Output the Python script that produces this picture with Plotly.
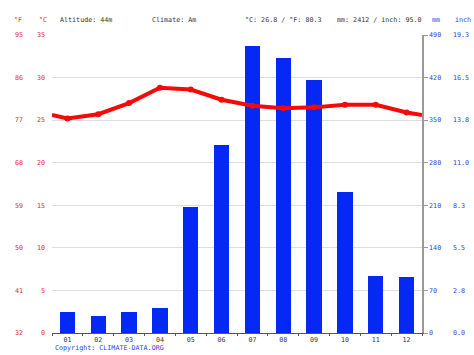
import plotly.graph_objects as go

months = ["01", "02", "03", "04", "05", "06", "07", "08", "09", "10", "11", "12"]
precip_mm = [34, 28, 34, 41, 207, 309, 472, 453, 416, 232, 93, 92]
temp_c = [25.2, 25.7, 27.0, 28.8, 28.6, 27.4, 26.7, 26.4, 26.5, 26.8, 26.8, 25.9]
temp_edge_c = [25.6, 25.6]  # line value at left / right plot edges

c_ticks = [0, 5, 10, 15, 20, 25, 30, 35]
f_ticks = [32, 41, 50, 59, 68, 77, 86, 95]
mm_ticks = [0, 70, 140, 210, 280, 350, 420, 490]
inch_labels = ["0.0", "2.8", "5.5", "8.3", "11.0", "13.8", "16.5", "19.3"]

W, H = 474, 355
L, R, T, B = 52, 52, 35, 22
FONT = "DejaVu Sans Mono"
FS = 6.7
RED = "#e8242a"
BLUE = "#2b3fe0"
DARK = "#333333"


def px(x):
    return (x - L) / (W - L - R)


def py(y):
    return (H - B - y) / (H - T - B)


xs = list(range(1, 13))
line_x = [0.5] + xs + [12.5]
line_y = [temp_edge_c[0]] + temp_c + [temp_edge_c[1]]

fig = go.Figure()
fig.add_trace(go.Bar(x=xs, y=precip_mm, width=0.5, marker_color="#0528f5",
                     marker_line_width=0, yaxis="y", showlegend=False))
fig.add_trace(go.Scatter(x=line_x, y=line_y, mode="lines", yaxis="y2",
                         line=dict(color="#f50a0a", width=4), showlegend=False))
fig.add_trace(go.Scatter(x=xs, y=temp_c, mode="markers", yaxis="y2",
                         marker=dict(color="#f50a0a", size=6), showlegend=False))
fig.add_trace(go.Scatter(x=[None], y=[None], yaxis="y3", showlegend=False))
fig.add_trace(go.Scatter(x=[None], y=[None], yaxis="y4", showlegend=False))

fig.update_layout(
    width=W, height=H,
    margin=dict(l=L, r=R, t=T, b=B, autoexpand=False),
    paper_bgcolor="white", plot_bgcolor="white",
    font=dict(family=FONT, size=FS, color=DARK),
    bargap=0,
    xaxis=dict(range=[0.5, 12.5], tickvals=xs, ticktext=months, ticks="",
               showgrid=False, zeroline=False, showline=True, linecolor="#555555",
               linewidth=1, tickfont=dict(color=DARK, size=FS),
               minor=dict(ticks="outside", tick0=0.5, dtick=1, ticklen=2,
                          tickcolor="#555555", showgrid=False)),
    yaxis=dict(range=[0, 490], tickvals=mm_ticks, side="right", showgrid=True,
               gridcolor="#dddddd", gridwidth=1, zeroline=False, showline=True,
               linecolor="#999999", linewidth=1.5, ticks="outside", ticklen=4,
               tickcolor="#999999", tickfont=dict(color=BLUE, size=FS)),
    yaxis2=dict(range=[0, 35], tickvals=c_ticks, side="left", overlaying="y",
                anchor="x", showgrid=False, zeroline=False, showline=False,
                ticks="", ticklabelstandoff=6, tickfont=dict(color=RED, size=FS)),
    yaxis3=dict(range=[32, 95], tickvals=f_ticks, side="left", overlaying="y",
                anchor="x", showgrid=False, zeroline=False, showline=False,
                ticks="", ticklabelstandoff=28, tickfont=dict(color=RED, size=FS)),
    yaxis4=dict(range=[0, 490], tickvals=mm_ticks, ticktext=inch_labels, side="right",
                overlaying="y", anchor="x", showgrid=False, zeroline=False,
                showline=False, ticks="", ticklabelstandoff=30,
                tickfont=dict(color=BLUE, size=FS)),
)

headers = [
    (12, "°F", RED), (37, "°C", RED), (58, "Altitude: 44m", DARK),
    (150, "Climate: Am", DARK), (243, "°C: 26.8 / °F: 80.3", DARK),
    (335, "mm: 2412 / inch: 95.0", DARK), (430, "mm", BLUE), (453, "inch", BLUE),
]
for x, t, c in headers:
    fig.add_annotation(x=px(x), y=py(20), xref="paper", yref="paper", text=t,
                       showarrow=False, xanchor="left", yanchor="middle",
                       font=dict(family=FONT, size=FS, color=c))
fig.add_annotation(x=px(53), y=py(348), xref="paper", yref="paper",
                   text="Copyright: CLIMATE-DATA.ORG", showarrow=False,
                   xanchor="left", yanchor="middle",
                   font=dict(family=FONT, size=FS, color=BLUE))

fig.write_html(
    "out.html",
    config={"displayModeBar": False},
    post_script="document.body.style.margin='0';document.body.style.overflow='hidden';",
)
